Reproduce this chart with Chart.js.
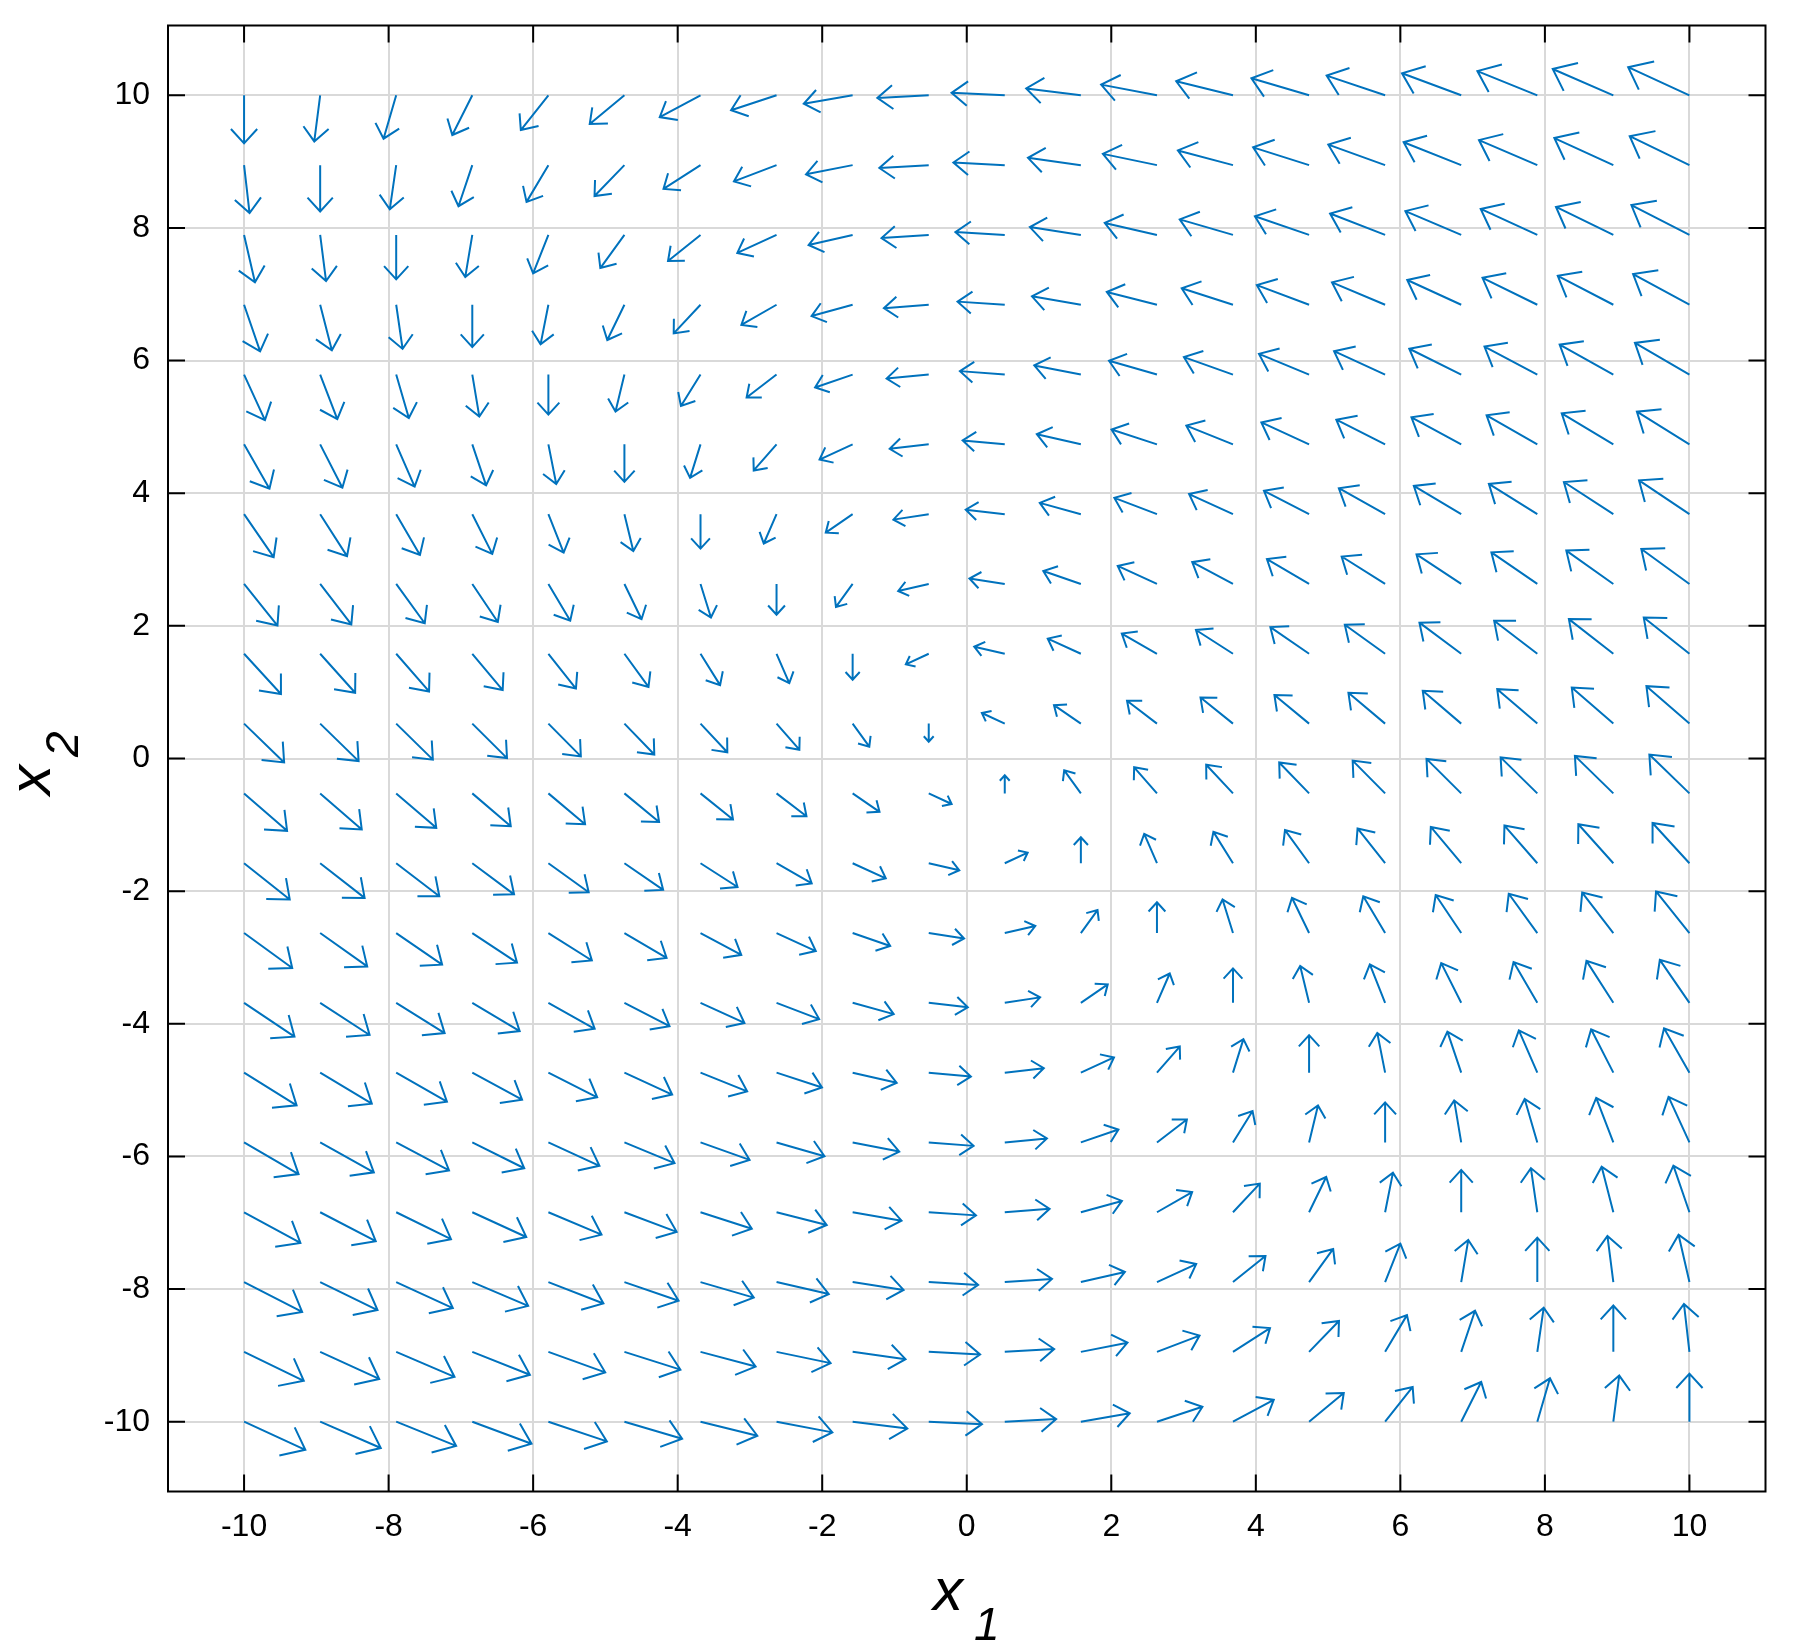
<!DOCTYPE html>
<html>
<head>
<meta charset="utf-8">
<script src="https://cdn.jsdelivr.net/npm/chart.js@4.4.1/dist/chart.umd.min.js"></script>
<style>
  html, body { margin: 0; padding: 0; background: #fff; }
  #wrap { width: 1794px; height: 1650px; }
</style>
</head>
<body>
<div id="wrap"><canvas id="quiver" width="1794" height="1650"></canvas></div>
<script>
// grid of arrow tails (20 x 20, from -10 to 10)
const x1Grid = [-10, -8.947, -7.895, -6.842, -5.789, -4.737, -3.684, -2.632, -1.579, -0.526,
                0.526, 1.579, 2.632, 3.684, 4.737, 5.789, 6.842, 7.895, 8.947, 10];
const x2Grid = [-10, -8.947, -7.895, -6.842, -5.789, -4.737, -3.684, -2.632, -1.579, -0.526,
                0.526, 1.579, 2.632, 3.684, 4.737, 5.789, 6.842, 7.895, 8.947, 10];

// field components, one row per x2 value (bottom row first), one column per x1 value
const fieldU = [
  [20, 18.95, 17.89, 16.84, 15.79, 14.74, 13.68, 12.63, 11.58, 10.53, 9.47, 8.42, 7.37, 6.32, 5.26, 4.21, 3.16, 2.11, 1.05, 0],
  [18.95, 17.89, 16.84, 15.79, 14.74, 13.68, 12.63, 11.58, 10.53, 9.47, 8.42, 7.37, 6.32, 5.26, 4.21, 3.16, 2.11, 1.05, 0, -1.05],
  [17.89, 16.84, 15.79, 14.74, 13.68, 12.63, 11.58, 10.53, 9.47, 8.42, 7.37, 6.32, 5.26, 4.21, 3.16, 2.11, 1.05, 0, -1.05, -2.11],
  [16.84, 15.79, 14.74, 13.68, 12.63, 11.58, 10.53, 9.47, 8.42, 7.37, 6.32, 5.26, 4.21, 3.16, 2.11, 1.05, 0, -1.05, -2.11, -3.16],
  [15.79, 14.74, 13.68, 12.63, 11.58, 10.53, 9.47, 8.42, 7.37, 6.32, 5.26, 4.21, 3.16, 2.11, 1.05, 0, -1.05, -2.11, -3.16, -4.21],
  [14.74, 13.68, 12.63, 11.58, 10.53, 9.47, 8.42, 7.37, 6.32, 5.26, 4.21, 3.16, 2.11, 1.05, 0, -1.05, -2.11, -3.16, -4.21, -5.26],
  [13.68, 12.63, 11.58, 10.53, 9.47, 8.42, 7.37, 6.32, 5.26, 4.21, 3.16, 2.11, 1.05, 0, -1.05, -2.11, -3.16, -4.21, -5.26, -6.32],
  [12.63, 11.58, 10.53, 9.47, 8.42, 7.37, 6.32, 5.26, 4.21, 3.16, 2.11, 1.05, 0, -1.05, -2.11, -3.16, -4.21, -5.26, -6.32, -7.37],
  [11.58, 10.53, 9.47, 8.42, 7.37, 6.32, 5.26, 4.21, 3.16, 2.11, 1.05, 0, -1.05, -2.11, -3.16, -4.21, -5.26, -6.32, -7.37, -8.42],
  [10.53, 9.47, 8.42, 7.37, 6.32, 5.26, 4.21, 3.16, 2.11, 1.05, 0, -1.05, -2.11, -3.16, -4.21, -5.26, -6.32, -7.37, -8.42, -9.47],
  [9.47, 8.42, 7.37, 6.32, 5.26, 4.21, 3.16, 2.11, 1.05, 0, -1.05, -2.11, -3.16, -4.21, -5.26, -6.32, -7.37, -8.42, -9.47, -10.53],
  [8.42, 7.37, 6.32, 5.26, 4.21, 3.16, 2.11, 1.05, 0, -1.05, -2.11, -3.16, -4.21, -5.26, -6.32, -7.37, -8.42, -9.47, -10.53, -11.58],
  [7.37, 6.32, 5.26, 4.21, 3.16, 2.11, 1.05, 0, -1.05, -2.11, -3.16, -4.21, -5.26, -6.32, -7.37, -8.42, -9.47, -10.53, -11.58, -12.63],
  [6.32, 5.26, 4.21, 3.16, 2.11, 1.05, 0, -1.05, -2.11, -3.16, -4.21, -5.26, -6.32, -7.37, -8.42, -9.47, -10.53, -11.58, -12.63, -13.68],
  [5.26, 4.21, 3.16, 2.11, 1.05, 0, -1.05, -2.11, -3.16, -4.21, -5.26, -6.32, -7.37, -8.42, -9.47, -10.53, -11.58, -12.63, -13.68, -14.74],
  [4.21, 3.16, 2.11, 1.05, 0, -1.05, -2.11, -3.16, -4.21, -5.26, -6.32, -7.37, -8.42, -9.47, -10.53, -11.58, -12.63, -13.68, -14.74, -15.79],
  [3.16, 2.11, 1.05, 0, -1.05, -2.11, -3.16, -4.21, -5.26, -6.32, -7.37, -8.42, -9.47, -10.53, -11.58, -12.63, -13.68, -14.74, -15.79, -16.84],
  [2.11, 1.05, 0, -1.05, -2.11, -3.16, -4.21, -5.26, -6.32, -7.37, -8.42, -9.47, -10.53, -11.58, -12.63, -13.68, -14.74, -15.79, -16.84, -17.89],
  [1.05, 0, -1.05, -2.11, -3.16, -4.21, -5.26, -6.32, -7.37, -8.42, -9.47, -10.53, -11.58, -12.63, -13.68, -14.74, -15.79, -16.84, -17.89, -18.95],
  [0, -1.05, -2.11, -3.16, -4.21, -5.26, -6.32, -7.37, -8.42, -9.47, -10.53, -11.58, -12.63, -13.68, -14.74, -15.79, -16.84, -17.89, -18.95, -20]
];
const fieldV = [
  [-10, -8.95, -7.89, -6.84, -5.79, -4.74, -3.68, -2.63, -1.58, -0.53, 0.53, 1.58, 2.63, 3.68, 4.74, 5.79, 6.84, 7.89, 8.95, 10],
  [-10, -8.95, -7.89, -6.84, -5.79, -4.74, -3.68, -2.63, -1.58, -0.53, 0.53, 1.58, 2.63, 3.68, 4.74, 5.79, 6.84, 7.89, 8.95, 10],
  [-10, -8.95, -7.89, -6.84, -5.79, -4.74, -3.68, -2.63, -1.58, -0.53, 0.53, 1.58, 2.63, 3.68, 4.74, 5.79, 6.84, 7.89, 8.95, 10],
  [-10, -8.95, -7.89, -6.84, -5.79, -4.74, -3.68, -2.63, -1.58, -0.53, 0.53, 1.58, 2.63, 3.68, 4.74, 5.79, 6.84, 7.89, 8.95, 10],
  [-10, -8.95, -7.89, -6.84, -5.79, -4.74, -3.68, -2.63, -1.58, -0.53, 0.53, 1.58, 2.63, 3.68, 4.74, 5.79, 6.84, 7.89, 8.95, 10],
  [-10, -8.95, -7.89, -6.84, -5.79, -4.74, -3.68, -2.63, -1.58, -0.53, 0.53, 1.58, 2.63, 3.68, 4.74, 5.79, 6.84, 7.89, 8.95, 10],
  [-10, -8.95, -7.89, -6.84, -5.79, -4.74, -3.68, -2.63, -1.58, -0.53, 0.53, 1.58, 2.63, 3.68, 4.74, 5.79, 6.84, 7.89, 8.95, 10],
  [-10, -8.95, -7.89, -6.84, -5.79, -4.74, -3.68, -2.63, -1.58, -0.53, 0.53, 1.58, 2.63, 3.68, 4.74, 5.79, 6.84, 7.89, 8.95, 10],
  [-10, -8.95, -7.89, -6.84, -5.79, -4.74, -3.68, -2.63, -1.58, -0.53, 0.53, 1.58, 2.63, 3.68, 4.74, 5.79, 6.84, 7.89, 8.95, 10],
  [-10, -8.95, -7.89, -6.84, -5.79, -4.74, -3.68, -2.63, -1.58, -0.53, 0.53, 1.58, 2.63, 3.68, 4.74, 5.79, 6.84, 7.89, 8.95, 10],
  [-10, -8.95, -7.89, -6.84, -5.79, -4.74, -3.68, -2.63, -1.58, -0.53, 0.53, 1.58, 2.63, 3.68, 4.74, 5.79, 6.84, 7.89, 8.95, 10],
  [-10, -8.95, -7.89, -6.84, -5.79, -4.74, -3.68, -2.63, -1.58, -0.53, 0.53, 1.58, 2.63, 3.68, 4.74, 5.79, 6.84, 7.89, 8.95, 10],
  [-10, -8.95, -7.89, -6.84, -5.79, -4.74, -3.68, -2.63, -1.58, -0.53, 0.53, 1.58, 2.63, 3.68, 4.74, 5.79, 6.84, 7.89, 8.95, 10],
  [-10, -8.95, -7.89, -6.84, -5.79, -4.74, -3.68, -2.63, -1.58, -0.53, 0.53, 1.58, 2.63, 3.68, 4.74, 5.79, 6.84, 7.89, 8.95, 10],
  [-10, -8.95, -7.89, -6.84, -5.79, -4.74, -3.68, -2.63, -1.58, -0.53, 0.53, 1.58, 2.63, 3.68, 4.74, 5.79, 6.84, 7.89, 8.95, 10],
  [-10, -8.95, -7.89, -6.84, -5.79, -4.74, -3.68, -2.63, -1.58, -0.53, 0.53, 1.58, 2.63, 3.68, 4.74, 5.79, 6.84, 7.89, 8.95, 10],
  [-10, -8.95, -7.89, -6.84, -5.79, -4.74, -3.68, -2.63, -1.58, -0.53, 0.53, 1.58, 2.63, 3.68, 4.74, 5.79, 6.84, 7.89, 8.95, 10],
  [-10, -8.95, -7.89, -6.84, -5.79, -4.74, -3.68, -2.63, -1.58, -0.53, 0.53, 1.58, 2.63, 3.68, 4.74, 5.79, 6.84, 7.89, 8.95, 10],
  [-10, -8.95, -7.89, -6.84, -5.79, -4.74, -3.68, -2.63, -1.58, -0.53, 0.53, 1.58, 2.63, 3.68, 4.74, 5.79, 6.84, 7.89, 8.95, 10],
  [-10, -8.95, -7.89, -6.84, -5.79, -4.74, -3.68, -2.63, -1.58, -0.53, 0.53, 1.58, 2.63, 3.68, 4.74, 5.79, 6.84, 7.89, 8.95, 10]
];

const tickValues = [-10, -8, -6, -4, -2, 0, 2, 4, 6, 8, 10];
const axisLimit = 11.0526;

const FONT = '"Liberation Sans", Arial, Helvetica, sans-serif';
const ARROW_COLOR = '#0072bd';
const HEAD_ANGLE = 40 * Math.PI / 180;
const HEAD_RATIO = 0.39;

const points = [];
x2Grid.forEach((yv, j) => {
  x1Grid.forEach((xv, i) => {
    points.push({x: xv, y: yv, u: fieldU[j][i], v: fieldV[j][i]});
  });
});

// draws the arrows; length grows with cube root of |f|, longest = 0.9 grid step
const quiverPlugin = {
  id: 'quiver',
  afterDatasetsDraw(chart) {
    const {ctx, chartArea, scales: {x, y}} = chart;
    const data = chart.data.datasets[0].data;
    const step = x1Grid[1] - x1Grid[0];
    const maxLen = Math.max(...data.map(p => Math.cbrt(Math.hypot(p.u, p.v))));
    const k = 0.9 * step / maxLen;
    const c = Math.cos(HEAD_ANGLE), s = Math.sin(HEAD_ANGLE);

    ctx.save();
    ctx.beginPath();
    ctx.rect(chartArea.left, chartArea.top, chartArea.right - chartArea.left, chartArea.bottom - chartArea.top);
    ctx.clip();
    ctx.strokeStyle = ARROW_COLOR;
    ctx.lineWidth = 2;
    ctx.lineJoin = 'miter';
    data.forEach(p => {
      const m = Math.hypot(p.u, p.v);
      if (!m) return;
      const f = k / Math.pow(m, 2 / 3);
      const du = p.u * f, dv = p.v * f;
      const hx = p.x + du, hy = p.y + dv;
      const bx = -du * HEAD_RATIO, by = -dv * HEAD_RATIO;
      const b1x = hx + bx * c - by * s, b1y = hy + bx * s + by * c;
      const b2x = hx + bx * c + by * s, b2y = hy - bx * s + by * c;
      ctx.beginPath();
      ctx.moveTo(x.getPixelForValue(p.x), y.getPixelForValue(p.y));
      ctx.lineTo(x.getPixelForValue(hx), y.getPixelForValue(hy));
      ctx.moveTo(x.getPixelForValue(b1x), y.getPixelForValue(b1y));
      ctx.lineTo(x.getPixelForValue(hx), y.getPixelForValue(hy));
      ctx.lineTo(x.getPixelForValue(b2x), y.getPixelForValue(b2y));
      ctx.stroke();
    });
    ctx.restore();
  }
};

// box, inward ticks on every side, axis titles with subscripts
const framePlugin = {
  id: 'frame',
  afterDraw(chart) {
    const {ctx, chartArea: a, scales: {x, y}} = chart;
    const tl = 17;
    ctx.save();
    ctx.strokeStyle = '#000';
    ctx.lineWidth = 2;
    ctx.beginPath();
    tickValues.forEach(t => {
      const px = x.getPixelForValue(t);
      ctx.moveTo(px, a.bottom); ctx.lineTo(px, a.bottom - tl);
      ctx.moveTo(px, a.top); ctx.lineTo(px, a.top + tl);
      const py = y.getPixelForValue(t);
      ctx.moveTo(a.left, py); ctx.lineTo(a.left + tl, py);
      ctx.moveTo(a.right, py); ctx.lineTo(a.right - tl, py);
    });
    ctx.stroke();
    ctx.strokeRect(a.left, a.top, a.right - a.left, a.bottom - a.top);

    ctx.fillStyle = '#000';
    ctx.textAlign = 'left';
    ctx.textBaseline = 'alphabetic';
    // x1
    ctx.font = 'italic 60px ' + FONT;
    ctx.fillText('x', 933, 1610);
    ctx.font = 'italic 46px ' + FONT;
    ctx.fillText('1', 974, 1640);
    // x2
    ctx.translate(50, 793);
    ctx.rotate(-Math.PI / 2);
    ctx.font = 'italic 60px ' + FONT;
    ctx.fillText('x', -2, 0);
    ctx.font = 'italic 46px ' + FONT;
    ctx.fillText('2', 36, 28);
    ctx.restore();
  }
};

const tickCommon = {
  color: '#000',
  font: {family: FONT, size: 32},
  maxRotation: 0,
  autoSkip: false,
  callback: v => String(v)
};
const gridCommon = {color: '#d9d9d9', lineWidth: 2, drawTicks: false};

new Chart(document.getElementById('quiver'), {
  type: 'scatter',
  data: {
    datasets: [{data: points, pointRadius: 0, pointHoverRadius: 0, showLine: false}]
  },
  options: {
    responsive: false,
    animation: false,
    devicePixelRatio: 1,
    events: [],
    layout: {padding: {left: 0, top: 25.5, right: 28.5, bottom: 0}},
    plugins: {legend: {display: false}, tooltip: {enabled: false}},
    scales: {
      x: {
        type: 'linear',
        min: -axisLimit,
        max: axisLimit,
        afterBuildTicks: s => { s.ticks = tickValues.map(v => ({value: v})); },
        afterFit: s => {
          s.height = 1650 - 1491.5;
          s.paddingLeft = 0; s.paddingRight = 0;
        },
        grid: gridCommon,
        border: {display: false},
        ticks: Object.assign({padding: 16}, tickCommon)
      },
      y: {
        type: 'linear',
        min: -axisLimit,
        max: axisLimit,
        afterBuildTicks: s => { s.ticks = tickValues.map(v => ({value: v})); },
        afterFit: s => {
          s.width = 168;
          s.paddingTop = 0; s.paddingBottom = 0;
        },
        grid: gridCommon,
        border: {display: false},
        ticks: Object.assign({padding: 18}, tickCommon)
      }
    }
  },
  plugins: [quiverPlugin, framePlugin]
});
</script>
</body>
</html>
